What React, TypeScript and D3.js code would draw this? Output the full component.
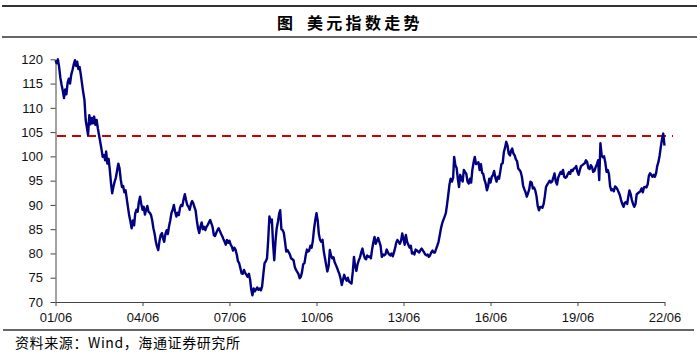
import { useEffect, useRef } from "react";
import * as d3 from "d3";

// US dollar index, semi-monthly readings (1st and 16th), from Jun 2001
const dxy2001to2005 = [
  119.8, 119.2, 120.0, 118.5, 116.2, 114.8, 113.5, 112.0, 113.8, 112.8, 115.2, 116.0, 115.0, 116.8,
  117.8, 118.9, 119.8, 118.6, 119.5, 118.0, 118.4, 116.8, 115.0, 113.2, 111.6, 107.5,
  106.0, 104.4, 108.5, 106.6, 107.9, 106.8, 108.2, 106.5, 107.5, 105.8, 104.4, 103.0,
  101.5, 99.9, 100.3, 99.2, 101.0, 98.5, 99.5, 97.2, 94.5, 92.4, 93.8, 94.8,
  95.6, 97.0, 98.5, 97.6, 95.2, 93.7, 93.9, 92.6, 93.0, 91.2, 89.5, 87.8,
  86.6, 85.2, 86.8, 85.8, 88.2, 89.0, 88.6, 90.6, 91.7, 90.2, 89.0, 89.6,
  88.0, 89.0, 89.8, 88.6, 88.4, 87.9, 86.8, 85.2, 84.0, 82.4, 81.4, 80.7,
  82.6, 83.8, 84.2, 83.0, 82.4, 84.0, 84.8, 84.0, 85.6, 86.8, 88.4, 89.0,
  90.0, 88.6, 87.6, 88.4, 87.9, 89.4, 90.0, 89.8, 91.2, 92.2, 91.0, 90.0,
];

const dxy2006to2010 = [
  89.6, 89.0, 90.2, 90.8, 90.4, 89.6, 88.8, 86.8, 85.2, 84.2, 85.6, 86.4,
  85.0, 85.5, 84.8, 85.5, 85.9, 86.4, 86.9, 86.2, 85.4, 83.8, 83.6, 84.2,
  84.8, 85.2, 84.6, 84.0, 83.6, 83.0, 82.4, 81.8, 82.8, 82.2, 82.6, 81.8,
  81.4, 80.6, 81.2, 80.8, 79.8, 78.4, 78.0, 77.0, 75.9, 75.8, 76.6, 76.0,
  75.6, 75.2, 75.8, 74.6, 72.6, 71.4, 72.8, 72.2, 72.6, 73.0, 72.5, 72.8,
  72.4, 73.2, 75.8, 78.0, 78.4, 79.0, 82.8, 87.6, 86.4, 87.0, 82.0, 78.6,
  82.6, 85.2, 86.6, 88.2, 88.9, 85.0, 84.8, 84.2, 82.4, 80.4, 80.7, 80.2,
  79.8, 79.0, 78.8, 78.6, 77.2, 76.6, 76.2, 75.8, 74.9, 75.2, 76.2, 77.8,
  78.0, 79.6, 80.8, 80.4, 80.6, 81.6, 81.2, 82.6, 85.0, 86.8, 88.3, 86.8,
  84.0, 82.8, 82.4, 82.8, 80.4, 79.0, 77.6, 76.3, 77.4, 80.7, 79.6, 79.0,
];

const dxy2011to2015 = [
  79.2, 78.2, 77.6, 77.0, 76.4, 75.8, 74.8, 73.5, 74.6, 75.6, 74.8, 74.4,
  75.0, 74.2, 74.0, 73.8, 76.2, 79.3, 77.4, 76.4, 77.8, 78.6, 79.2, 80.2,
  81.0, 79.8, 79.0, 78.8, 79.6, 79.3, 79.4, 79.0, 80.8, 82.2, 83.4, 82.0,
  82.6, 83.2, 82.4, 81.6, 79.3, 79.8, 79.6, 79.8, 80.8, 80.2, 79.8, 79.6,
  80.0, 79.4, 80.2, 81.2, 82.2, 82.8, 82.4, 82.0, 82.6, 84.1, 83.0, 81.8,
  83.8, 82.4, 81.8, 81.2, 81.6, 80.0, 80.2, 79.8, 80.8, 80.6, 80.4, 80.2,
  80.7, 81.0, 80.6, 80.2, 79.8, 79.6, 79.8, 79.3, 79.6, 80.2, 80.6, 80.2,
  80.2, 80.9, 81.6, 82.4, 83.8, 85.2, 86.2, 86.9, 87.6, 88.3, 90.0, 92.0,
  94.2, 95.4, 94.8, 95.6, 99.9, 98.2, 97.6, 95.4, 93.7, 96.2, 95.4, 94.8,
  97.2, 96.8, 96.4, 94.8, 94.4, 95.4, 94.6, 97.2, 98.8, 99.9, 98.4, 98.6,
];

const dxy2016to2022 = [
  98.8, 97.2, 98.4, 96.6, 96.4, 95.2, 94.4, 93.0, 93.8, 95.4, 94.6, 95.8,
  96.1, 97.0, 95.6, 94.8, 95.8, 95.4, 96.8, 98.4, 98.6, 100.9, 101.8, 103.0,
  102.2, 100.6, 100.2, 101.2, 101.6, 100.6, 100.2, 99.4, 99.0, 97.5, 97.2, 96.8,
  95.8, 94.0, 93.2, 92.6, 91.7, 92.4, 93.2, 94.8, 94.6, 93.4, 93.6, 93.0,
  91.8, 89.8, 88.9, 89.6, 89.6, 89.4, 90.2, 91.8, 93.7, 94.2, 94.6, 95.0,
  94.6, 94.8, 95.6, 96.5, 94.8, 94.2, 95.6, 96.2, 96.8, 96.4, 97.2, 95.8,
  95.6, 95.8, 96.4, 96.8, 96.4, 97.2, 97.0, 97.5, 97.6, 98.0, 96.8, 96.2,
  97.2, 98.0, 98.2, 98.4, 98.6, 99.2, 98.8, 97.6, 97.4, 98.2, 97.8, 96.8,
  97.0, 97.8, 98.4, 99.2, 95.1, 102.7, 100.2, 99.8, 100.0, 98.8, 96.8, 97.2,
  96.4, 93.8, 93.0, 93.2, 92.8, 93.8, 93.6, 93.2, 92.6, 92.0, 91.0, 90.2,
  89.6, 90.4, 90.6, 90.2, 91.6, 93.0, 92.2, 91.0, 90.2, 89.6, 90.2, 92.2,
  92.4, 92.6, 92.8, 93.4, 92.6, 93.6, 93.7, 93.6, 94.2, 96.0, 96.5, 96.2,
  95.8, 96.2, 95.8, 96.6, 98.0, 98.8, 100.2, 102.0, 103.6, 104.7, 102.2,
];

const dxyValues = [...dxy2001to2005, ...dxy2006to2010, ...dxy2011to2015, ...dxy2016to2022];
const yTicks = [70, 75, 80, 85, 90, 95, 100, 105, 110, 115, 120];
const xTickYears = [2001, 2004, 2007, 2010, 2013, 2016, 2019, 2022];
const referenceLevel = 104.2;

const titleLead = "图";
const titleMain = "美元指数走势";
const sourceNote = "资料来源：Wind，海通证券研究所";

const App = () => {
  const ref = useRef<SVGSVGElement | null>(null);

  useEffect(() => {
    document.body.style.margin = "0";
    const W = 700;
    const H = 358;
    const svg = d3.select(ref.current);
    svg.selectAll("*").remove();
    svg.attr("width", W).attr("height", H);

    const cjk = "'Noto Sans CJK SC', sans-serif";
    const latin = "'Liberation Sans', Arial, sans-serif";

    // header rules and title
    svg.append("line").attr("x1", 2).attr("x2", 697).attr("y1", 6).attr("y2", 6)
      .attr("stroke", "#333").attr("stroke-width", 2);
    svg.append("line").attr("x1", 2).attr("x2", 697).attr("y1", 37).attr("y2", 37)
      .attr("stroke", "#333").attr("stroke-width", 1.6);
    svg.append("text").attr("x", 277).attr("y", 29)
      .attr("font-family", cjk).attr("font-size", 16).attr("font-weight", "bold")
      .text(titleLead);
    svg.append("text").attr("x", 307).attr("y", 29)
      .attr("font-family", cjk).attr("font-size", 16).attr("font-weight", "bold")
      .attr("letter-spacing", 3.3)
      .text(titleMain);

    const x = d3.scaleTime()
      .domain([new Date(2001, 5, 1), new Date(2022, 5, 1)])
      .range([55.5, 664.5]);
    const y = d3.scaleLinear().domain([70, 120]).range([302, 59.3]);

    const data = dxyValues.map((v, k) => ({
      date: new Date(2001, 5 + Math.floor(k / 2), k % 2 ? 16 : 1),
      value: v,
    }));

    // y axis
    const gy = svg.append("g").attr("transform", "translate(55.5,0)")
      .call(d3.axisLeft(y).tickValues(yTicks).tickSize(5).tickPadding(7.5).tickSizeOuter(0));
    gy.select(".domain").attr("stroke", "#444");
    gy.selectAll(".tick line").attr("stroke", "#444");
    gy.selectAll("text").attr("font-family", latin).attr("font-size", 13).attr("fill", "#111");

    // x axis
    const gx = svg.append("g").attr("transform", "translate(0,302)")
      .call(d3.axisBottom(x)
        .tickValues(xTickYears.map((yr) => new Date(yr, 5, 1)))
        .tickFormat((d) => d3.timeFormat("%y/%m")(d as Date))
        .tickSize(4).tickPadding(7).tickSizeOuter(0));
    gx.select(".domain").attr("stroke", "#444");
    gx.selectAll(".tick line").attr("stroke", "#444");
    gx.selectAll("text").attr("font-family", latin).attr("font-size", 13).attr("fill", "#111");

    // reference dashed line
    svg.append("line")
      .attr("x1", 57).attr("x2", 673)
      .attr("y1", y(referenceLevel)).attr("y2", y(referenceLevel))
      .attr("stroke", "#cc0000").attr("stroke-width", 2.2)
      .attr("stroke-dasharray", "9,6");

    // index line
    const line = d3.line<{ date: Date; value: number }>()
      .x((d) => x(d.date))
      .y((d) => y(d.value));
    svg.append("path").datum(data)
      .attr("d", line)
      .attr("fill", "none")
      .attr("stroke", "#000080")
      .attr("stroke-width", 2.4)
      .attr("stroke-linejoin", "round");

    // footer
    svg.append("line").attr("x1", 3).attr("x2", 694).attr("y1", 330).attr("y2", 330)
      .attr("stroke", "#333").attr("stroke-width", 1.5);
    svg.append("text").attr("x", 15).attr("y", 348)
      .attr("font-family", cjk).attr("font-size", 14).attr("letter-spacing", 0.6)
      .text(sourceNote);
  }, []);

  return <svg ref={ref} style={{ display: "block" }} />;
};

export default App;
